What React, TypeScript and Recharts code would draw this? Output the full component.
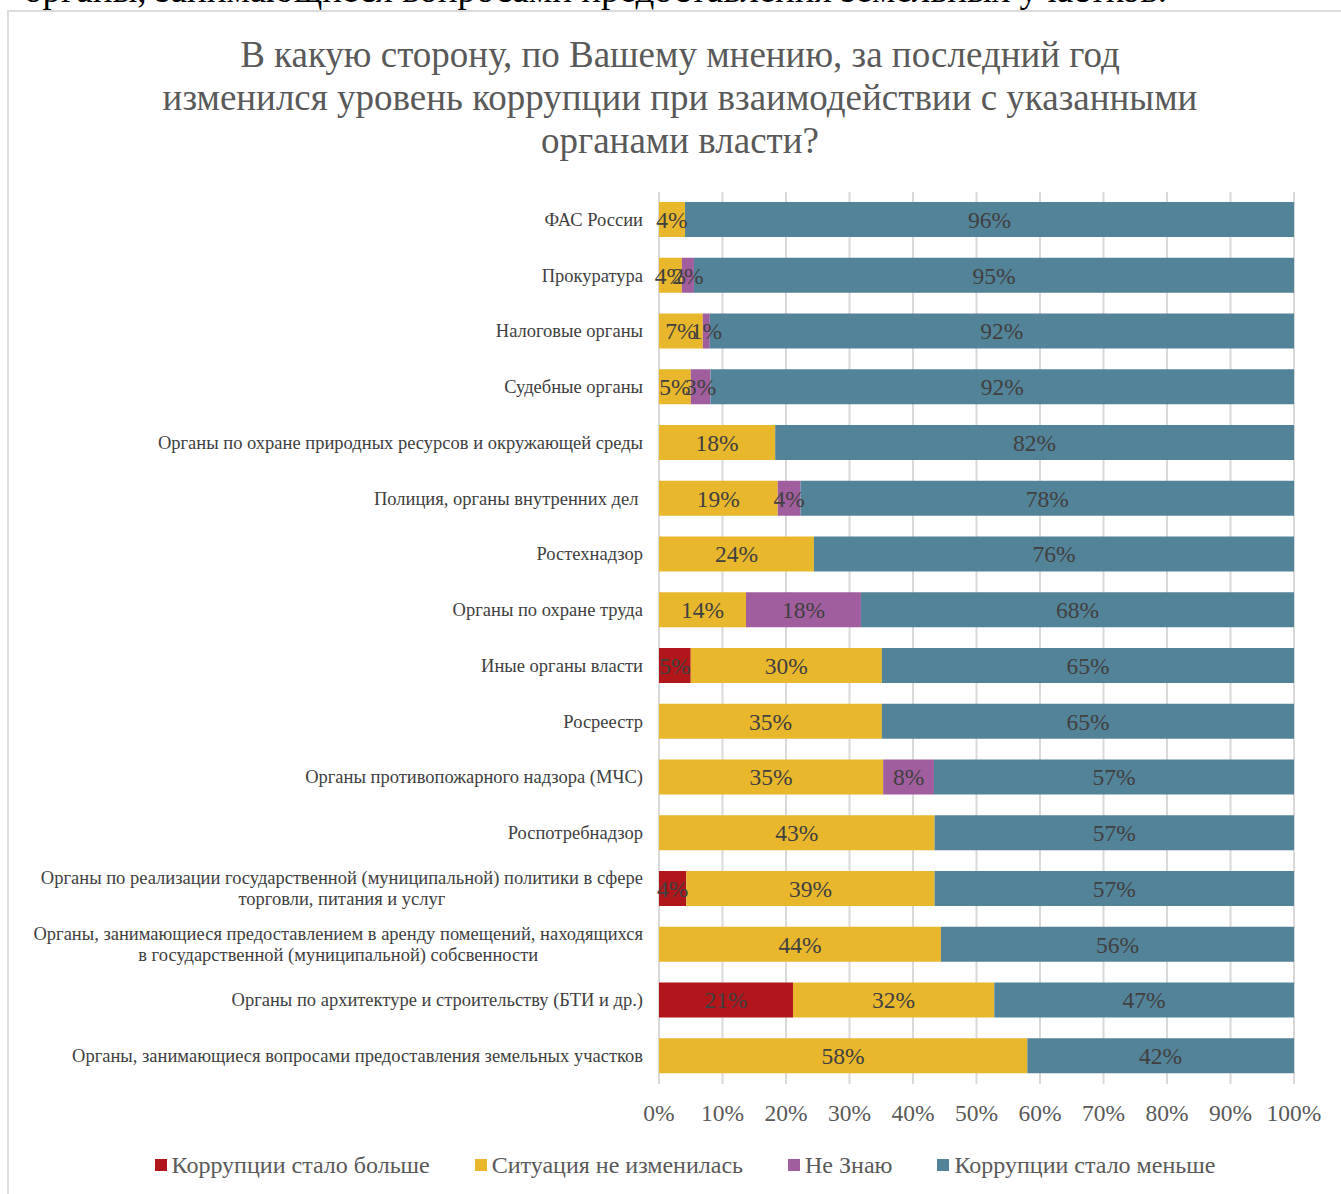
import React from "react";
import { BarChart, Bar, XAxis, YAxis, CartesianGrid, LabelList } from "recharts";

const FONT = "'Liberation Serif', 'Times New Roman', serif";

const categories = [
  "ФАС России",
  "Прокуратура",
  "Налоговые органы",
  "Судебные органы",
  "Органы по охране природных ресурсов и окружающей среды",
  "Полиция, органы внутренних дел\u00A0",
  "Ростехнадзор",
  "Органы по охране труда",
  "Иные органы власти",
  "Росреестр",
  "Органы противопожарного надзора (МЧС)",
  "Роспотребнадзор",
  "Органы по реализации государственной (муниципальной) политики в сфере\nторговли, питания и услуг",
  "Органы, занимающиеся предоставлением в аренду помещений, находящихся\nв государственной (муниципальной) собсвенности",
  "Органы по архитектуре и строительству (БТИ и др.)",
  "Органы, занимающиеся вопросами предоставления земельных участков",
];

const more = [0, 0, 0, 0, 0, 0, 0, 0, 5.0, 0, 0, 0, 4.3, 0, 21.1, 0];
const same = [4.1, 3.6, 6.9, 5.0, 18.3, 18.7, 24.4, 13.7, 30.1, 35.1, 35.3, 43.4, 39.1, 44.4, 31.7, 58.0];
const unknown = [0, 1.9, 1.1, 3.1, 0, 3.6, 0, 18.1, 0, 0, 8.0, 0, 0, 0, 0, 0];
const less = [95.9, 94.5, 92.0, 91.9, 81.7, 77.7, 75.6, 68.2, 64.9, 64.9, 56.7, 56.6, 56.6, 55.6, 47.2, 42.0];

const xTicks = [0, 10, 20, 30, 40, 50, 60, 70, 80, 90, 100];

const series = [
  { key: "more", name: "Коррупции стало больше", color: "#B0161A" },
  { key: "same", name: "Ситуация не изменилась", color: "#E8B72C" },
  { key: "unknown", name: "Не Знаю", color: "#A05E9E" },
  { key: "less", name: "Коррупции стало меньше", color: "#538398" },
];

const data = categories.map((c, i) => ({
  cat: c,
  more: more[i],
  same: same[i],
  unknown: unknown[i],
  less: less[i],
}));

let ctx: CanvasRenderingContext2D | null = null;
function measure(s: string, size: number) {
  if (!ctx) ctx = document.createElement("canvas").getContext("2d");
  if (!ctx) return s.length * size * 0.5;
  ctx.font = `${size}px 'Liberation Serif'`;
  return ctx.measureText(s).width;
}

const CAT_SIZE = 18.5;

function CatTick(props: any) {
  const { x, y, payload } = props;
  const lines = String(payload.value).split("\n");
  const right = x - 16;
  if (lines.length === 1) {
    return (
      <text x={right} y={y} textAnchor="end" dominantBaseline="central" fontSize={CAT_SIZE} fontFamily={FONT} fill="#404040">
        {lines[0]}
      </text>
    );
  }
  const w = Math.max(...lines.map((l) => measure(l, CAT_SIZE)));
  const cx = right - w / 2;
  const lh = 21;
  return (
    <text textAnchor="middle" fontSize={CAT_SIZE} fontFamily={FONT} fill="#404040">
      {lines.map((l, i) => (
        <tspan key={i} x={cx} y={y + (i - (lines.length - 1) / 2) * lh} dominantBaseline="central">
          {l}
        </tspan>
      ))}
    </text>
  );
}

const fmt = (v: any) => (v ? `${Math.round(Number(v))}%` : "");

export default function App() {
  return (
    <div style={{ position: "absolute", left: 0, top: 0, width: 1341, height: 1194, overflow: "hidden", background: "#fff", fontFamily: FONT }}>
      <svg width={1341} height={20} style={{ position: "absolute", left: 0, top: 0, overflow: "visible" }}>
        <text x={1167} y={2} textAnchor="end" fontSize={37} fontFamily={FONT} fill="#000">
          органы, занимающиеся вопросами предоставления земельных участков.
        </text>
      </svg>
      <div style={{ position: "absolute", left: 7, top: 10, width: 1400, height: 1300, border: "2px solid #dcdcdc", boxSizing: "border-box" }} />
      <div
        style={{
          position: "absolute",
          left: 0,
          top: 33,
          width: 1360,
          textAlign: "center",
          fontSize: 37,
          lineHeight: "43px",
          color: "#595959",
        }}
      >
        В какую сторону, по Вашему мнению, за последний год
        <br />
        изменился уровень коррупции при взаимодействии с указанными
        <br />
        органами власти?
      </div>
      <div style={{ position: "absolute", left: 0, top: 0 }}>
        <BarChart
          width={1341}
          height={1194}
          data={data}
          layout="vertical"
          margin={{ top: 192, right: 47, bottom: 70, left: 0 }}
          barSize={35}
        >
          <CartesianGrid horizontal={false} stroke="#d9d9d9" strokeWidth={2} />
          <XAxis
            type="number"
            domain={[0, 100]}
            ticks={xTicks}
            tickFormatter={(v) => `${v}%`}
            axisLine={false}
            tickLine={false}
            height={40}
            tickMargin={14}
            tick={{ fill: "#595959", fontSize: 23.5, fontFamily: FONT }}
          />
          <YAxis
            type="category"
            dataKey="cat"
            width={659}
            axisLine={false}
            tickLine={false}
            tickSize={0}
            tickMargin={0}
            interval={0}
            tick={<CatTick />}
          />
          {series.map((s) => (
            <Bar key={s.key} dataKey={s.key} name={s.name} stackId="a" fill={s.color} isAnimationActive={false}>
              <LabelList dataKey={s.key} position="center" formatter={fmt} fill="#404040" fontSize={23.5} fontFamily={FONT} />
            </Bar>
          ))}
        </BarChart>
      </div>
      <div
        style={{
          position: "absolute",
          left: 0,
          top: 1150,
          width: 1370,
          display: "flex",
          justifyContent: "center",
          gap: 45,
          fontSize: 24,
          color: "#595959",
          lineHeight: "30px",
        }}
      >
        {series.map((s) => (
          <div key={s.key} style={{ display: "flex", alignItems: "center" }}>
            <span style={{ display: "inline-block", width: 12, height: 12, background: s.color, marginRight: 5 }} />
            <span>{s.name}</span>
          </div>
        ))}
      </div>
    </div>
  );
}
